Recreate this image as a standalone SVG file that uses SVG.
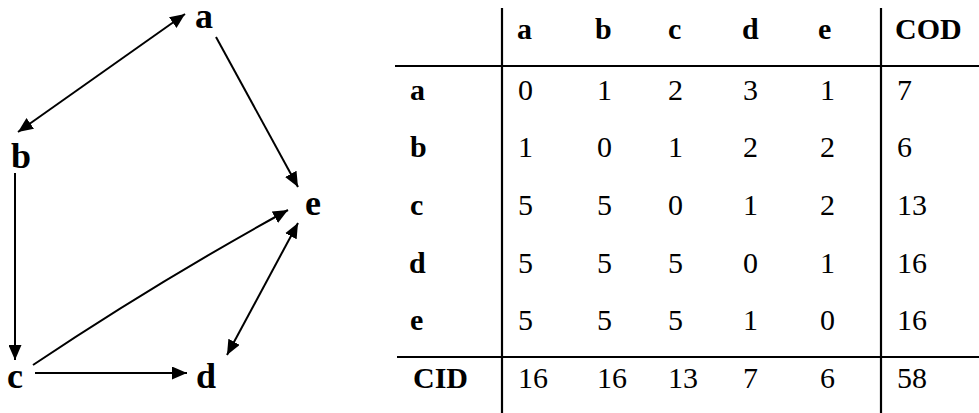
<svg xmlns="http://www.w3.org/2000/svg" width="979" height="413" viewBox="0 0 979 413">
<style>
.node{font-family:'Liberation Serif','Times New Roman','DejaVu Serif',serif;font-weight:bold;font-size:36px;fill:#000}
.edge{stroke:#000;stroke-width:2;fill:none}
.hd{font-family:'Liberation Serif','Times New Roman','DejaVu Serif',serif;font-weight:bold;font-size:30px;fill:#000}
.cell{font-family:'Liberation Serif','Times New Roman','DejaVu Serif',serif;font-size:30px;fill:#000}
.rule{stroke:#000;stroke-width:2.2}
</style>
<defs>
<marker id="arr" markerUnits="userSpaceOnUse" markerWidth="15" markerHeight="13" refX="15" refY="6.5" orient="auto-start-reverse" viewBox="0 0 15 13">
<path d="M0,0 L15,6.5 L0,13 z" fill="#000"/>
</marker>
</defs>
<rect width="979" height="413" fill="#fff"/>
<g id="connectors">
<line class="edge" x1="18" y1="132" x2="185" y2="14" marker-start="url(#arr)" marker-end="url(#arr)"/>
<line class="edge" x1="216" y1="37" x2="298" y2="187" marker-end="url(#arr)"/>
<line class="edge" x1="15" y1="173" x2="15" y2="360" marker-end="url(#arr)"/>
<path class="edge" d="M33,365 Q157,282 288,210" marker-end="url(#arr)"/>
<line class="edge" x1="227" y1="355" x2="298" y2="223" marker-start="url(#arr)" marker-end="url(#arr)"/>
<line class="edge" x1="35" y1="373" x2="187" y2="373" marker-end="url(#arr)"/>
</g>
<g id="node-a"><text class="node" font-family="Liberation Serif, serif" x="195" y="28">a</text></g>
<g id="node-b"><text class="node" font-family="Liberation Serif, serif" x="11" y="168">b</text></g>
<g id="node-c"><text class="node" font-family="Liberation Serif, serif" x="7" y="388">c</text></g>
<g id="node-d"><text class="node" font-family="Liberation Serif, serif" x="196" y="388">d</text></g>
<g id="node-e"><text class="node" font-family="Liberation Serif, serif" x="305" y="215">e</text></g>
<g id="table">
<line class="rule" x1="395" y1="66" x2="979" y2="66"/>
<line class="rule" x1="397" y1="357" x2="979" y2="357"/>
<line class="rule" x1="502" y1="8" x2="502" y2="413"/>
<line class="rule" x1="881" y1="8" x2="881" y2="413"/>
<g class="hd" font-family="Liberation Serif, serif">
<text x="517" y="39">a</text><text x="595" y="39">b</text><text x="668" y="39">c</text><text x="742" y="39">d</text><text x="818" y="39">e</text><text x="895" y="39">COD</text>
<text x="410" y="100">a</text><text x="410" y="157">b</text><text x="410" y="215">c</text><text x="409" y="273">d</text><text x="410" y="330">e</text><text x="413" y="388">CID</text>
</g>
<g class="cell" font-family="Liberation Serif, serif">
<text x="518" y="100">0</text><text x="597" y="100">1</text><text x="668" y="100">2</text><text x="743" y="100">3</text><text x="820" y="100">1</text><text x="897" y="100">7</text>
<text x="518" y="157">1</text><text x="597" y="157">0</text><text x="668" y="157">1</text><text x="743" y="157">2</text><text x="820" y="157">2</text><text x="897" y="157">6</text>
<text x="518" y="215">5</text><text x="597" y="215">5</text><text x="668" y="215">0</text><text x="743" y="215">1</text><text x="820" y="215">2</text><text x="897" y="215">13</text>
<text x="518" y="273">5</text><text x="597" y="273">5</text><text x="668" y="273">5</text><text x="743" y="273">0</text><text x="820" y="273">1</text><text x="897" y="273">16</text>
<text x="518" y="330">5</text><text x="597" y="330">5</text><text x="668" y="330">5</text><text x="743" y="330">1</text><text x="820" y="330">0</text><text x="897" y="330">16</text>
<text x="518" y="388">16</text><text x="597" y="388">16</text><text x="668" y="388">13</text><text x="743" y="388">7</text><text x="820" y="388">6</text><text x="897" y="388">58</text>
</g>
</g>
</svg>
